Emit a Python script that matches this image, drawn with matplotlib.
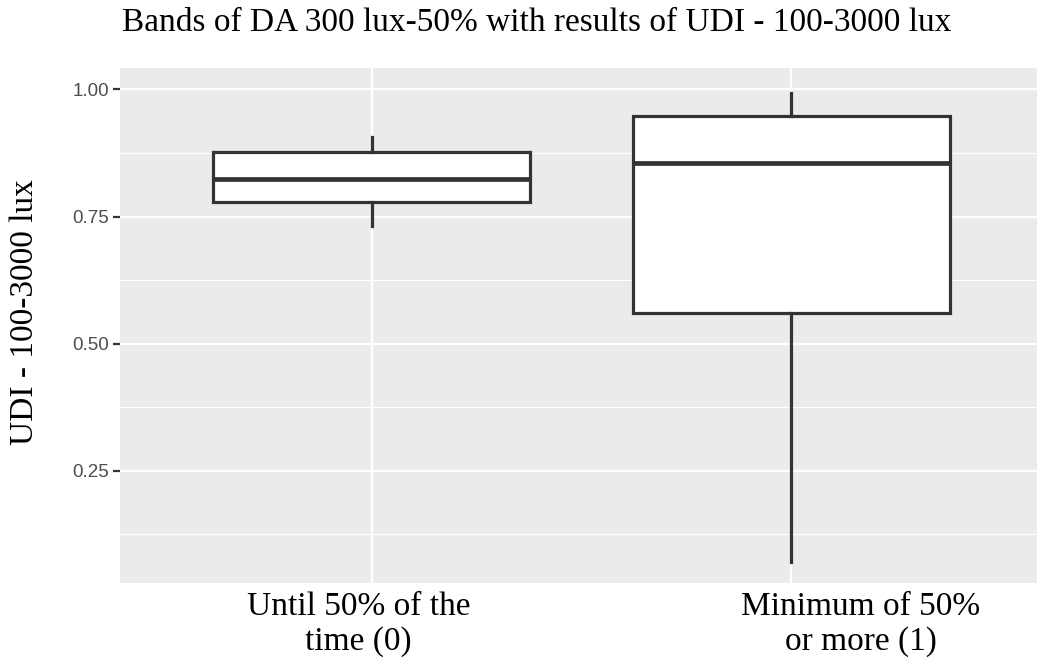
import matplotlib
matplotlib.use("Agg")
import matplotlib.pyplot as plt
import matplotlib.transforms as mtransforms

# ===================================
# Data (box summaries per band)
# ===================================

categories = ["Until 50% of the\ntime (0)", "Minimum of 50%\nor more (1)"]
whisker_low = [0.732, 0.071]
q1 = [0.778, 0.561]
median = [0.824, 0.856]
q3 = [0.878, 0.948]
whisker_high = [0.906, 0.994]

y_ticks = [0.25, 0.50, 0.75, 1.00]
y_minor = [0.125, 0.375, 0.625, 0.875]

stats = []
for i in range(len(categories)):
    stats.append({
        "whislo": whisker_low[i],
        "q1": q1[i],
        "med": median[i],
        "q3": q3[i],
        "whishi": whisker_high[i],
        "fliers": [],
    })

# ===================================
# Figure
# ===================================

fig = plt.figure(figsize=(10.37, 6.68), dpi=100)
ax = fig.add_axes([120 / 1037, 85 / 668, 917 / 1037, 515 / 668])
ax.set_facecolor("#EBEBEB")

line_col = "#333333"
ax.bxp(
    stats,
    positions=[1, 2],
    widths=0.755,
    showcaps=False,
    showfliers=False,
    patch_artist=True,
    boxprops=dict(facecolor="white", edgecolor=line_col, linewidth=2.3),
    whiskerprops=dict(color=line_col, linewidth=2.3),
    medianprops=dict(color=line_col, linewidth=3.4, solid_capstyle="butt"),
    zorder=3,
)

ax.set_xlim(0.40, 2.585)
ax.set_ylim(0.029, 1.0423)

# grid lines in ggplot style
for y in y_ticks:
    ax.axhline(y, color="white", linewidth=1.6, zorder=1)
for y in y_minor:
    ax.axhline(y, color="white", linewidth=0.8, zorder=1)
for x in [1, 2]:
    ax.axvline(x, color="white", linewidth=1.6, zorder=1)

for side in ax.spines.values():
    side.set_visible(False)

ax.set_yticks(y_ticks)
ax.set_yticklabels(["%.2f" % v for v in y_ticks],
                   fontsize=13.5, color="#4D4D4D", family="Liberation Sans")
ax.tick_params(axis="y", length=5, width=1.6, color="#333333", pad=3)

ax.set_xticks([1, 2])
ax.set_xticklabels(categories, fontsize=24, family="Liberation Serif",
                   color="black", linespacing=1.2)
ax.tick_params(axis="x", length=0, pad=6)
shifts = [-13, 69]
for lab, dx in zip(ax.get_xticklabels(), shifts):
    lab.set_transform(lab.get_transform() +
                      mtransforms.ScaledTranslation(dx / 100, 0, fig.dpi_scale_trans))

ax.set_ylabel("UDI - 100-3000 lux", fontsize=24, family="Liberation Serif",
              color="black", va="center")
ax.yaxis.set_label_coords(-0.1036, 0.526)

fig.text(537 / 1037, 1 - 23 / 668,
         "Bands of DA 300 lux-50% with results of UDI - 100-3000 lux",
         ha="center", va="center", fontsize=24, family="Liberation Serif")

fig.savefig("out.png", dpi=100)
